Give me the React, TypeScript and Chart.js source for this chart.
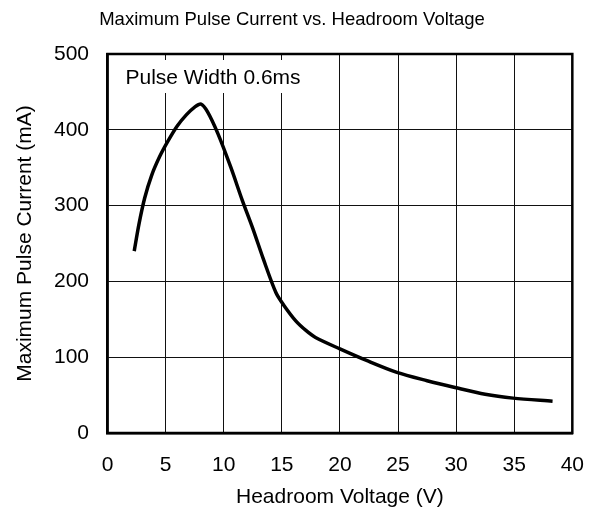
import React, { useEffect, useRef } from "react";
import { Chart, registerables } from "chart.js";

Chart.register(...registerables);

const chartTitle = "Maximum Pulse Current vs. Headroom Voltage";
const xTitle = "Headroom Voltage (V)";
const yTitle = "Maximum Pulse Current (mA)";
const noteText = "Pulse Width 0.6ms";

const voltage = [2.3, 2.7, 3.2, 3.8, 4.5, 5.2, 6.0, 6.8, 7.5, 8.05, 8.6, 9.5, 10.6, 11.6, 12.5, 13.4, 14.5, 15.2, 16.2, 17.1, 17.9, 20.0, 22.4, 24.9, 27.5, 29.9, 32.5, 34.9, 38.3];
const current = [240, 275, 310, 340, 365, 385, 405, 420, 430, 434, 424, 395, 351, 307, 270, 230, 185, 168, 148, 135, 126, 111, 95, 80, 69, 60, 51, 46, 42];

const xTicks = [0, 5, 10, 15, 20, 25, 30, 35, 40];
const yTicks = [0, 100, 200, 300, 400, 500];

const FONT = "'Liberation Sans', Arial, sans-serif";

const overlay = {
  id: "overlay",
  beforeDatasetsDraw(chart: any) {
    const { ctx, chartArea } = chart;
    ctx.save();
    ctx.fillStyle = "#ffffff";
    ctx.fillRect(chartArea.left + 5, chartArea.top + 6, 194, 33);
    ctx.fillStyle = "#000000";
    ctx.font = `21px ${FONT}`;
    ctx.textBaseline = "middle";
    ctx.textAlign = "left";
    ctx.fillText(noteText, chartArea.left + 18, chartArea.top + 24);
    ctx.restore();
  },
  afterDraw(chart: any) {
    const { ctx, chartArea } = chart;
    ctx.save();
    ctx.strokeStyle = "#000000";
    ctx.lineWidth = 2.5;
    ctx.strokeRect(chartArea.left, chartArea.top, chartArea.right - chartArea.left, chartArea.bottom - chartArea.top);
    ctx.fillStyle = "#000000";
    ctx.font = `18.5px ${FONT}`;
    ctx.textBaseline = "middle";
    ctx.textAlign = "center";
    ctx.fillText(chartTitle, 292, 20);
    ctx.restore();
  },
};

export default function App() {
  const ref = useRef<HTMLCanvasElement | null>(null);
  useEffect(() => {
    if (!ref.current) return;
    const chart = new Chart(ref.current, {
      type: "line",
      data: {
        datasets: [
          {
            data: voltage.map((v, i) => ({ x: v, y: current[i] })),
            borderColor: "#000000",
            borderWidth: 3.5,
            pointRadius: 0,
            tension: 0.3,
            fill: false,
          },
        ],
      },
      options: {
        animation: false,
        responsive: false,
        layout: { padding: { top: 54, right: 24.5, left: 0, bottom: 0 } },
        plugins: { legend: { display: false }, tooltip: { enabled: false }, title: { display: false } },
        scales: {
          x: {
            type: "linear",
            min: 0,
            max: 40,
            afterBuildTicks: (s: any) => {
              s.ticks = xTicks.map((v) => ({ value: v }));
            },
            afterFit: (s: any) => {
              s.height = 79;
            },
            ticks: { color: "#000", font: { family: FONT, size: 21 }, padding: 20, maxRotation: 0 },
            grid: { color: "#111", lineWidth: 1, drawTicks: false },
            border: { color: "#000", width: 2.5 },
            title: { display: true, text: xTitle, color: "#000", font: { family: FONT, size: 21 }, padding: { top: 0, bottom: 2 } },
          },
          y: {
            type: "linear",
            min: 0,
            max: 500,
            afterBuildTicks: (s: any) => {
              s.ticks = yTicks.map((v) => ({ value: v }));
            },
            afterFit: (s: any) => {
              s.width = 107.5;
            },
            ticks: { color: "#000", font: { family: FONT, size: 21 }, padding: 18.5 },
            grid: { color: "#111", lineWidth: 1, drawTicks: false },
            border: { color: "#000", width: 2.5 },
            title: { display: true, text: yTitle, color: "#000", font: { family: FONT, size: 21 }, padding: { top: 13, bottom: 0 } },
          },
        },
      },
      plugins: [overlay],
    });
    return () => chart.destroy();
  }, []);
  return (
    <canvas
      ref={ref}
      width={604}
      height={512}
      style={{ display: "block", position: "absolute", left: 0, top: 0 }}
    />
  );
}
